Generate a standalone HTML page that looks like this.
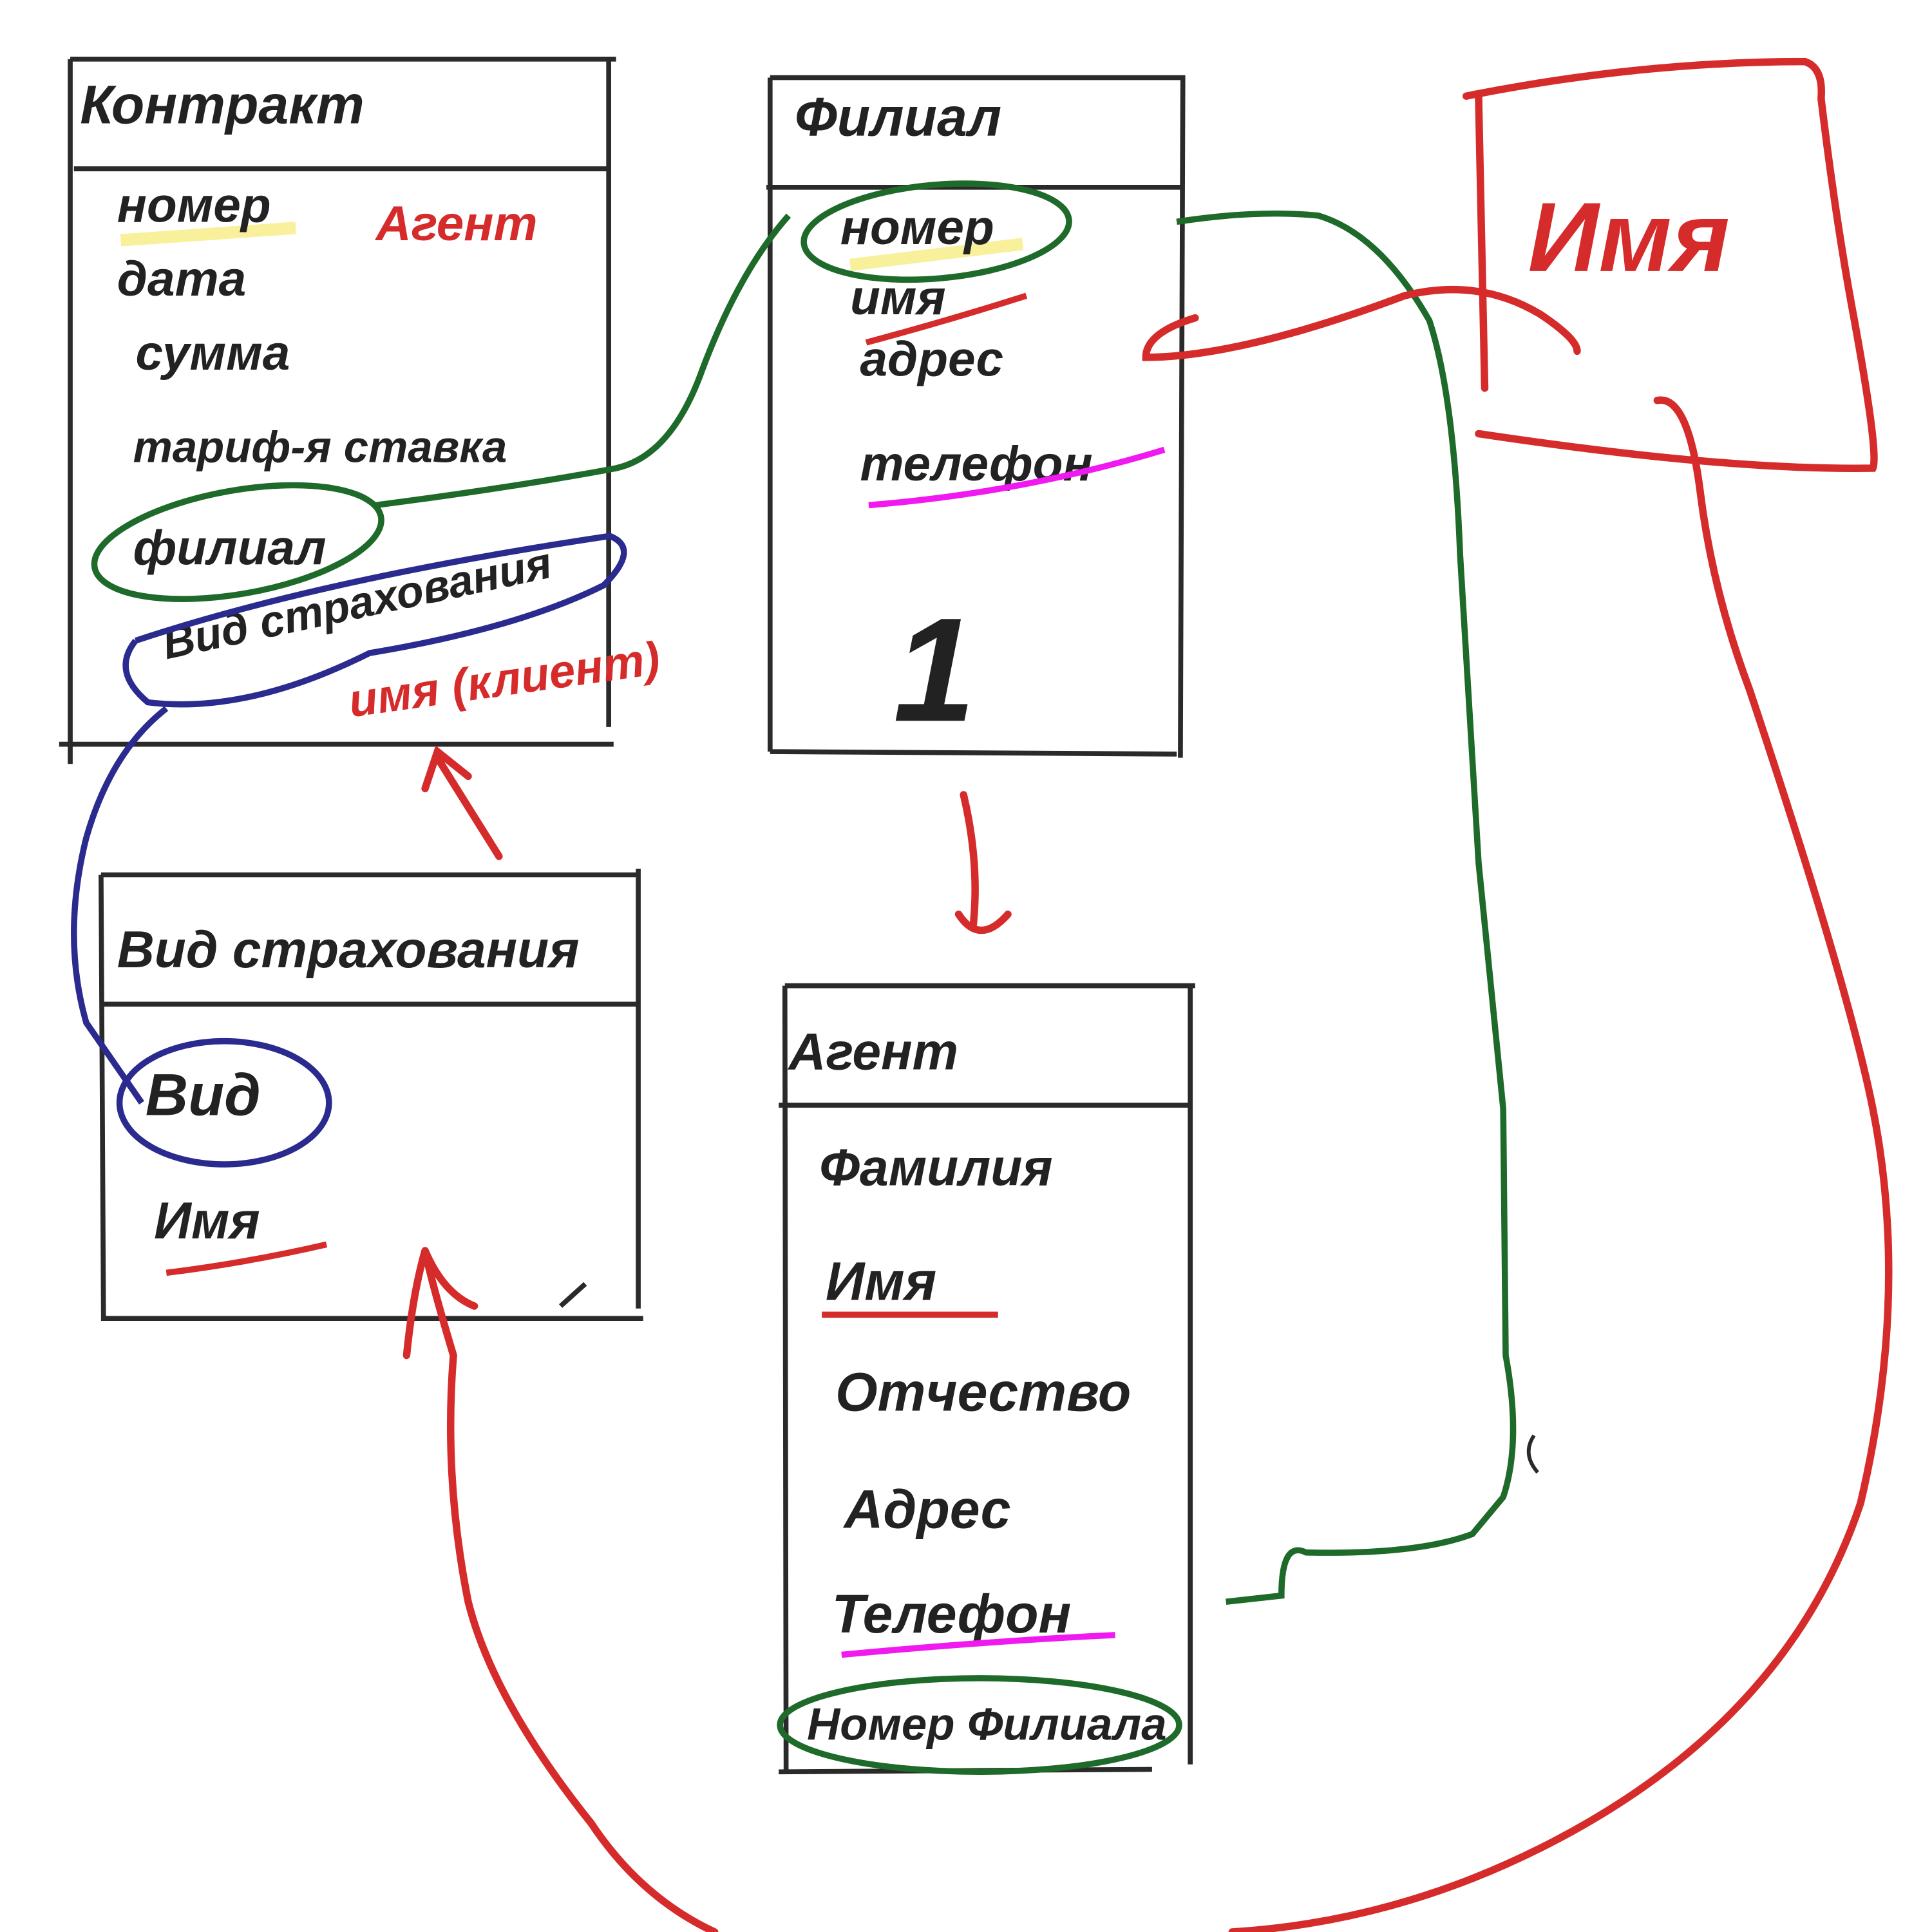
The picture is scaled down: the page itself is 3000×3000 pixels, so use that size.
<!DOCTYPE html>
<html><head><meta charset="utf-8"><style>
html,body{margin:0;padding:0;background:#fff;}
svg{display:block;}
text{font-family:"Liberation Sans","Noto Sans CJK SC",sans-serif;font-style:italic;font-weight:bold;}
</style></head><body>
<svg width="3000" height="3000" viewBox="0 0 1568 1568" xmlns="http://www.w3.org/2000/svg">
<rect width="1568" height="1568" fill="#fff"/>
<g fill="none" stroke="#2a2a2a" stroke-width="4">
<path d="M57 48 L500 48 M57 48 L57 620 M494 48 L494 590 M60 137 L494 137 M48 604 L498 604"/>
<path d="M625 63 L962 63 M625 63 L625 610 M960 63 L958 615 M622 152 L960 152 M625 610 L955 612"/>
<path d="M82 710 L520 710 M82 710 L84 1070 M518 705 L518 1062 M84 815 L518 815 M82 1070 L522 1070 M455 1060 L475 1042"/>
<path d="M637 800 L970 800 M637 800 L638 1440 M966 800 L966 1432 M632 897 L964 897 M632 1438 L935 1436"/>
<path d="M1245 1165 Q1235 1180 1248 1195" stroke-width="3"/>
</g>
<path d="M98 195 L240 185" stroke="#f8f09a" stroke-width="10" fill="none"/>
<path d="M690 215 L830 198" stroke="#f8f09a" stroke-width="10" fill="none"/>
<g fill="#222" font-size="40">
<text x="65" y="100" font-size="44">Контракт</text>
<text x="95" y="180">номер</text>
<text x="95" y="240">дата</text>
<text x="110" y="300">сумма</text>
<text x="108" y="375" font-size="36">тариф-я ставка</text>
<text x="108" y="458">филиал</text>
<text x="135" y="535" transform="rotate(-12 135 535)" font-size="36">Вид страхования</text>
<text x="645" y="110" font-size="44">Филиал</text>
<text x="682" y="198">номер</text>
<text x="690" y="255">имя</text>
<text x="698" y="305">адрес</text>
<text x="698" y="390">телефон</text>
<text x="725" y="585" font-size="120" font-style="normal">1</text>
<text x="95" y="785" font-size="42">Вид страхования</text>
<text x="118" y="905" font-size="48">Вид</text>
<text x="125" y="1005" font-size="42">Имя</text>
<text x="640" y="868" font-size="42">Агент</text>
<text x="665" y="962" font-size="42">Фамилия</text>
<text x="670" y="1055" font-size="44">Имя</text>
<text x="678" y="1145" font-size="44">Отчество</text>
<text x="685" y="1240" font-size="44">Адрес</text>
<text x="675" y="1325" font-size="44">Телефон</text>
<text x="655" y="1412" font-size="37">Номер Филиала</text>
</g>
<g fill="#d62b2b">
<text x="305" y="195" font-size="40">Агент</text>
<text x="285" y="582" font-size="38" transform="rotate(-8 285 582)">имя (клиент)</text>
<text x="1240" y="220" font-size="80">Имя</text>
</g>
<g fill="none" stroke-width="5">
<path d="M703 278 Q770 260 833 240" stroke="#d62b2b"/>
<path d="M705 410 Q830 400 945 365" stroke="#f01af0"/>
<path d="M135 1033 Q200 1025 265 1010" stroke="#d62b2b"/>
<path d="M667 1067 L810 1067" stroke="#d62b2b"/>
<path d="M683 1343 Q800 1332 905 1327" stroke="#f01af0"/>
</g>
<g fill="none" stroke="#1e6a2a" stroke-width="5">
<ellipse cx="193" cy="440" rx="118" ry="42" transform="rotate(-10 193 440)"/>
<ellipse cx="760" cy="188" rx="108" ry="38" transform="rotate(-5 760 188)"/>
<ellipse cx="795" cy="1400" rx="162" ry="38"/>
<path d="M305 410 Q420 395 500 380 Q545 370 570 300 Q600 220 640 175"/>
<path d="M955 180 Q1020 170 1070 175 Q1120 190 1160 260 Q1180 320 1185 450 L1200 700 L1220 900 L1222 1100 Q1235 1170 1220 1215 L1195 1245 Q1150 1262 1060 1260 Q1040 1250 1040 1295 L995 1300"/>
</g>
<g fill="none" stroke="#2b2b8f" stroke-width="5">
<path d="M110 520 Q260 470 495 435 Q520 445 490 475 Q420 510 300 530 Q200 580 120 570 Q90 545 110 520"/>
<ellipse cx="182" cy="895" rx="85" ry="50"/>
<path d="M135 575 Q90 610 70 680 Q50 760 70 830 L115 895"/>
</g>
<g fill="none" stroke="#d62b2b" stroke-width="6" stroke-linecap="round">
<path d="M1200 78 L1205 315 M1190 78 Q1330 50 1465 50 Q1480 55 1478 80 Q1490 180 1505 260 Q1525 370 1520 380 Q1400 382 1200 352"/>
<path d="M970 258 Q930 270 930 290 Q960 290 1000 282 Q1060 270 1140 240 Q1200 225 1250 255 Q1280 275 1280 285"/>
<path d="M1345 325 Q1370 320 1380 400 Q1390 480 1420 560 Q1500 800 1520 900 Q1550 1050 1510 1220 Q1450 1400 1250 1500 Q1130 1560 1000 1568"/>
<path d="M580 1568 Q520 1540 480 1480 Q400 1380 380 1300 Q360 1200 368 1100 Q350 1040 345 1015 Q335 1050 330 1100 M345 1015 Q360 1050 385 1060"/>
<path d="M405 695 L355 615 M345 640 L355 610 L380 630"/>
<path d="M782 645 Q795 700 790 750 M778 742 Q795 768 818 742"/>
</g>
</svg>
</body></html>
